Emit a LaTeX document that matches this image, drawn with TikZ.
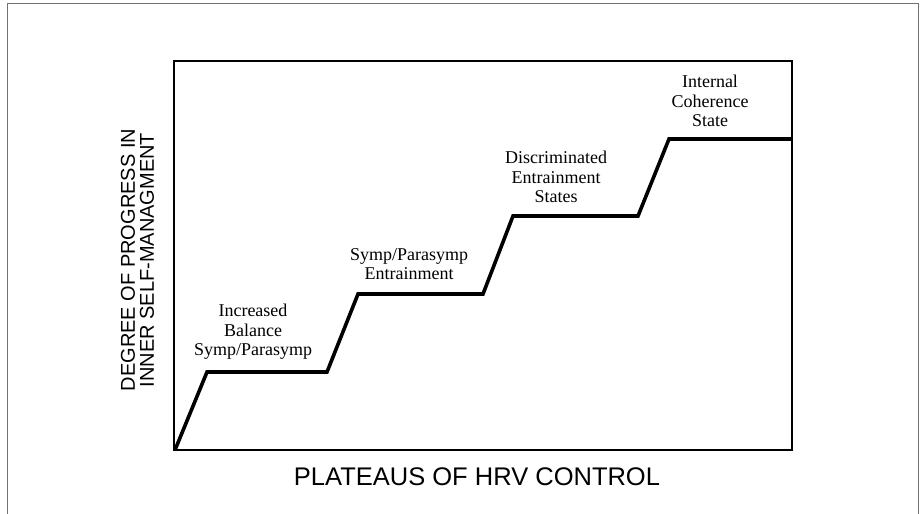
\documentclass[tikz,border=0pt]{standalone}
\usepackage{fontspec}
\setmainfont{Liberation Serif}
\setsansfont{Liberation Sans}
\begin{document}
\begin{tikzpicture}[x=1pt,y=-1pt,
  frame/.style={draw=black!55,line width=0.8pt},
  axisbox/.style={draw=black,line width=2.6pt},
  stairs/.style={draw=black,line width=3.6pt,line join=miter},
  lab/.style={align=center,font=\fontsize{18}{19.5}\selectfont,inner sep=0pt},
  axlab/.style={font=\sffamily\fontsize{20}{20}\selectfont,inner sep=0pt}]
\useasboundingbox (0,0) rectangle (921,514);
\draw[frame] (7,514) -- (7,3) -- (918,3) -- (918,514);
\draw[axisbox] (174,61) rectangle (792,450);
\coordinate (s0) at (175,450);
\coordinate (s1) at (207,372);
\coordinate (s2) at (327,372);
\coordinate (s3) at (358,294);
\coordinate (s4) at (483,294);
\coordinate (s5) at (513,216);
\coordinate (s6) at (638,216);
\coordinate (s7) at (669,139);
\coordinate (s8) at (792,139);
\draw[stairs] (s0) -- (s1) -- (s2) -- (s3) -- (s4) -- (s5) -- (s6) -- (s7) -- (s8);
\node[lab] (l1) at (253,332) {Increased\\Balance\\Symp/Parasymp};
\node[lab] (l2) at (409,264) {Symp/Parasymp\\Entrainment};
\node[lab] (l3) at (556,177) {Discriminated\\Entrainment\\States};
\node[lab] (l4) at (710,101) {Internal\\Coherence\\State};
\node[axlab,font=\sffamily\fontsize{25.5}{25.5}\selectfont] (xl) at (477,477) {PLATEAUS OF HRV CONTROL};
\node[axlab,rotate=90] (yl1) at (128,260) {DEGREE OF PROGRESS IN};
\node[axlab,rotate=90] (yl2) at (147,260) {INNER SELF-MANAGMENT};
\end{tikzpicture}
\end{document}
